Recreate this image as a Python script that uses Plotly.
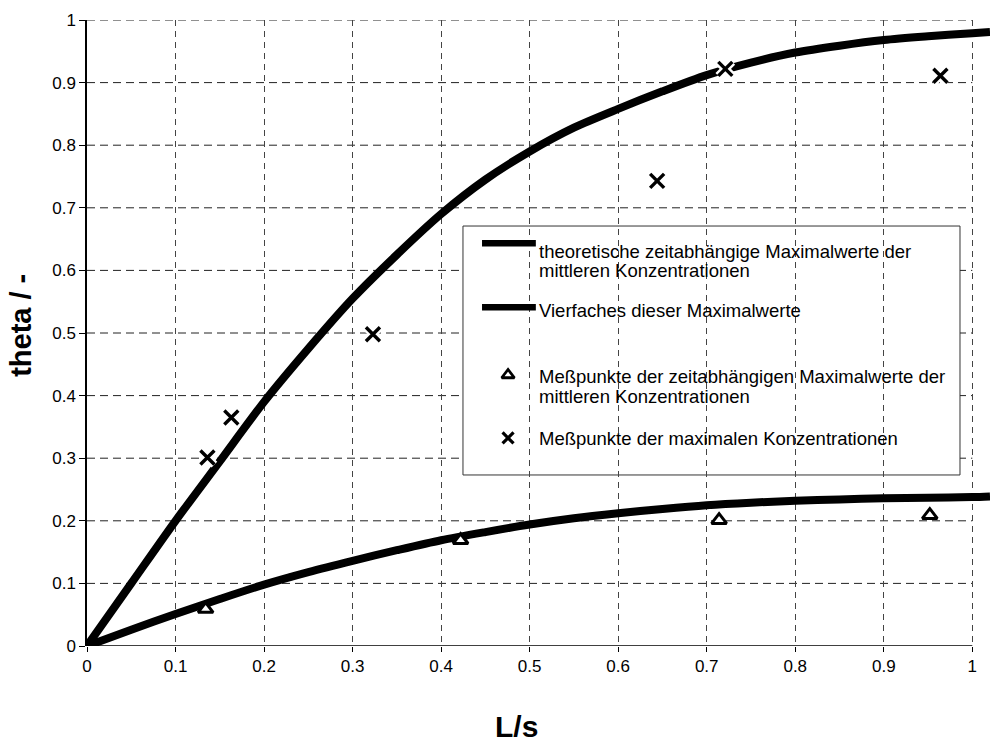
import plotly.graph_objects as go

# Theoretical curves (sampled along L/s)
curve_x = [0.0, 0.05, 0.1, 0.15, 0.2, 0.25, 0.3, 0.35, 0.4, 0.45, 0.5,
           0.55, 0.6, 0.65, 0.7, 0.75, 0.8, 0.85, 0.9, 0.95, 1.0, 1.02]
theory_mean = [0.0, 0.026, 0.051, 0.075, 0.098, 0.118, 0.136, 0.153, 0.169, 0.182, 0.194,
               0.204, 0.212, 0.219, 0.225, 0.229, 0.232, 0.234, 0.236, 0.237, 0.238, 0.239]
theory_4x = [0.0, 0.10, 0.20, 0.295, 0.39, 0.475, 0.555, 0.625, 0.69, 0.745, 0.79,
             0.828, 0.858, 0.886, 0.912, 0.932, 0.948, 0.959, 0.968, 0.974, 0.979, 0.981]

# Measured points
tri_x = [0.134, 0.422, 0.714, 0.952]
tri_y = [0.059, 0.169, 0.201, 0.209]
cross_x = [0.136, 0.163, 0.323, 0.644, 0.721, 0.964]
cross_y = [0.301, 0.365, 0.498, 0.743, 0.922, 0.911]

tick_vals = [0, 0.1, 0.2, 0.3, 0.4, 0.5, 0.6, 0.7, 0.8, 0.9, 1.0]
tick_text = ["0", "0.1", "0.2", "0.3", "0.4", "0.5", "0.6", "0.7", "0.8", "0.9", "1"]

legend_lines = [
    ["theoretische zeitabhängige Maximalwerte der", "mittleren Konzentrationen"],
    ["Vierfaches dieser Maximalwerte"],
    ["Meßpunkte der zeitabhängigen Maximalwerte der", "mittleren Konzentrationen"],
    ["Meßpunkte der maximalen Konzentrationen"],
]

FONT = "Liberation Sans, Arial, Helvetica, sans-serif"

fig = go.Figure()

for ys in (theory_4x, theory_mean):
    fig.add_trace(go.Scatter(x=curve_x, y=ys, mode="lines",
                             line=dict(color="black", width=8, shape="spline", smoothing=0.8),
                             showlegend=False, cliponaxis=False))
fig.add_trace(go.Scatter(x=tri_x, y=tri_y, mode="markers",
                         marker=dict(symbol="triangle-up", size=13, color="white",
                                     line=dict(color="black", width=3)),
                         showlegend=False))
# white halo under the crosses
fig.add_trace(go.Scatter(x=cross_x, y=cross_y, mode="markers",
                         marker=dict(symbol="x-thin", size=14,
                                     line=dict(color="white", width=8)),
                         showlegend=False))
fig.add_trace(go.Scatter(x=cross_x, y=cross_y, mode="markers",
                         marker=dict(symbol="x-thin", size=14,
                                     line=dict(color="black", width=3.4)),
                         showlegend=False))

shapes = []
# horizontal dashed grid lines, ending at L/s = 1
for v in tick_vals[1:]:
    shapes.append(dict(type="line", xref="x", yref="y", x0=0, x1=1, y0=v, y1=v,
                       line=dict(color="#222", width=1, dash="8px,5px"), layer="below"))
# bottom axis line
shapes.append(dict(type="line", xref="x", yref="y", x0=0, x1=1, y0=0, y1=0,
                   line=dict(color="black", width=1.5)))

# legend box (drawn inside the plot area, under the traces)
box_x0, box_x1, box_y0, box_y1 = 0.4247, 0.9861, 0.2732, 0.6709
shapes.append(dict(type="rect", xref="x", yref="y", x0=box_x0, x1=box_x1,
                   y0=box_y0, y1=box_y1, fillcolor="white",
                   line=dict(color="#333", width=1), layer="below"))
sample_y = [0.6433, 0.5411]
for sy in sample_y:
    shapes.append(dict(type="line", xref="x", yref="y", x0=0.4462, x1=0.5070,
                       y0=sy, y1=sy, line=dict(color="black", width=6.5), layer="above"))

text_x = 0.5083
text_rows = [[0.6299, 0.6006], [0.5356], [0.4302, 0.3982], [0.3318]]
annotations = []
for lines, ys in zip(legend_lines, text_rows):
    for t, y in zip(lines, ys):
        annotations.append(dict(x=text_x, y=y, xref="x", yref="y", text=t,
                                showarrow=False, xanchor="left", yanchor="middle",
                                font=dict(family=FONT, size=18.5, color="black")))

# axis titles
annotations.append(dict(x=-0.0731, y=0.513, xref="paper", yref="paper", text="<b>theta / -</b>",
                        textangle=-90, showarrow=False, xanchor="center", yanchor="middle",
                        font=dict(family=FONT, size=29, color="black")))
annotations.append(dict(x=0.476, y=-0.128, xref="paper", yref="paper", text="<b>L/s</b>",
                        showarrow=False, xanchor="center", yanchor="middle",
                        font=dict(family=FONT, size=30, color="black")))

# legend glyphs for the measured points
fig.add_trace(go.Scatter(x=[0.4756], y=[0.4329], mode="markers",
                         marker=dict(symbol="triangle-up", size=11, color="white",
                                     line=dict(color="black", width=2.8)),
                         showlegend=False, cliponaxis=False))
fig.add_trace(go.Scatter(x=[0.4756], y=[0.3323], mode="markers",
                         marker=dict(symbol="x-thin", size=11,
                                     line=dict(color="black", width=3.2)),
                         showlegend=False, cliponaxis=False))

fig.update_layout(
    width=994, height=742,
    margin=dict(l=87, r=4, t=20, b=96),
    paper_bgcolor="white", plot_bgcolor="white",
    shapes=shapes, annotations=annotations,
    font=dict(family=FONT, size=17, color="black"),
    xaxis=dict(range=[0, 1.02], tickvals=tick_vals, ticktext=tick_text,
               showgrid=True, gridcolor="#444", gridwidth=1, griddash="6px,5px",
               zeroline=False, showline=False, ticks="outside", ticklen=5,
               tickcolor="black", tickfont=dict(size=17)),
    yaxis=dict(range=[0, 1], tickvals=tick_vals, ticktext=tick_text,
               showgrid=False, zeroline=False, showline=True, linecolor="black",
               linewidth=1.5, ticks="outside", ticklen=6, tickcolor="black",
               tickfont=dict(size=17)),
)

fig.write_html("out.html")
